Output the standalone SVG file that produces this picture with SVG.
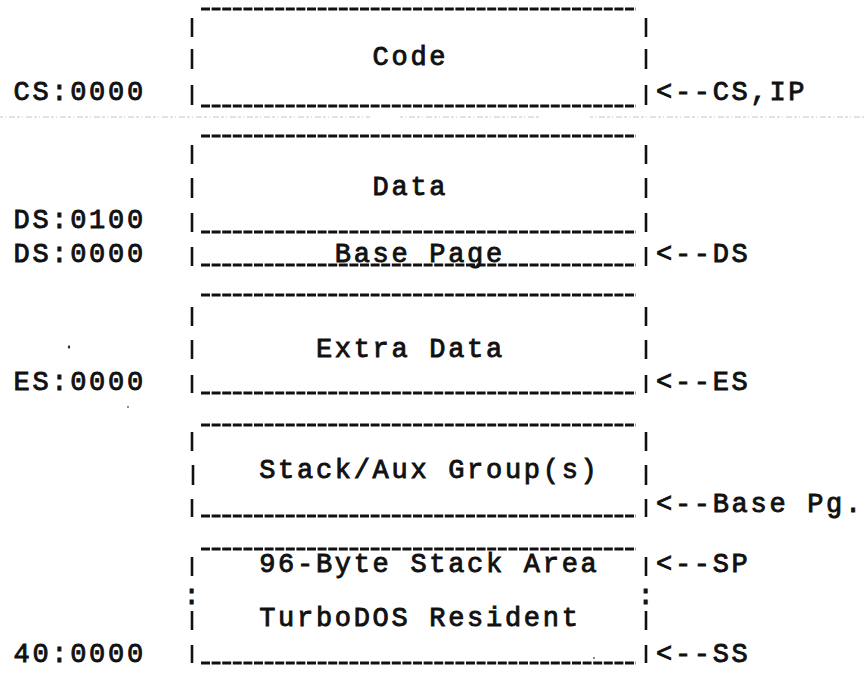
<svg xmlns="http://www.w3.org/2000/svg" width="864" height="682" viewBox="0 0 864 682">
<style>
  text { font-family: "Liberation Mono", "Courier New", monospace; font-size: 27px; letter-spacing: 2.7px; fill: #111; stroke: #111; stroke-width: 0.9px; }
  .rule { stroke: #111; stroke-width: 3; stroke-dasharray: 9 1.6; fill: none; }
  .bar { stroke: #111; stroke-width: 2.6; fill: none; }
  .scan { stroke: #c4c4c4; stroke-width: 1; stroke-dasharray: 3 2 1 3 6 2; fill: none; }
</style>
<rect width="864" height="682" fill="#fff"/>

<g id="scan-artifact">
  <line class="scan" x1="0" y1="117" x2="370" y2="117"/>
  <line class="scan" x1="400" y1="117" x2="540" y2="117"/>
  <line class="scan" x1="590" y1="117" x2="864" y2="117"/>
  <ellipse cx="69" cy="347" rx="1.2" ry="1.8" fill="#333"/>
  <circle cx="128" cy="407" r="0.9" fill="#555"/>
  <circle cx="594" cy="658" r="0.9" fill="#555"/>
</g>

<g id="block-code">
  <line class="rule" x1="201" y1="9" x2="636" y2="9"/>
  <line class="bar" x1="192" y1="18" x2="192" y2="37"/>
  <line class="bar" x1="192" y1="49" x2="192" y2="69"/>
  <line class="bar" x1="192" y1="85" x2="192" y2="105"/>
  <line class="bar" x1="646" y1="18" x2="646" y2="37"/>
  <line class="bar" x1="646" y1="49" x2="646" y2="69"/>
  <line class="bar" x1="646" y1="85" x2="646" y2="105"/>
  <line class="rule" x1="201" y1="106" x2="636" y2="106"/>
  <text x="372.6" y="65">Code</text>
</g>

<g id="block-data">
  <line class="rule" x1="201" y1="136" x2="636" y2="136"/>
  <line class="bar" x1="192" y1="145" x2="192" y2="164"/>
  <line class="bar" x1="192" y1="178" x2="192" y2="198"/>
  <line class="bar" x1="192" y1="213" x2="192" y2="232"/>
  <line class="bar" x1="192" y1="247" x2="192" y2="266"/>
  <line class="bar" x1="646" y1="145" x2="646" y2="164"/>
  <line class="bar" x1="646" y1="178" x2="646" y2="198"/>
  <line class="bar" x1="646" y1="213" x2="646" y2="232"/>
  <line class="bar" x1="646" y1="247" x2="646" y2="266"/>
  <line class="rule" x1="201" y1="232" x2="636" y2="232"/>
  <text x="372.6" y="195">Data</text>
  <line class="rule" x1="201" y1="265" x2="636" y2="265"/>
  <text x="334.8" y="262">Base Page</text>
</g>

<g id="block-extra">
  <line class="rule" x1="201" y1="295" x2="636" y2="295"/>
  <line class="bar" x1="192" y1="307" x2="192" y2="326"/>
  <line class="bar" x1="192" y1="340" x2="192" y2="359"/>
  <line class="bar" x1="192" y1="375" x2="192" y2="393"/>
  <line class="bar" x1="646" y1="307" x2="646" y2="326"/>
  <line class="bar" x1="646" y1="340" x2="646" y2="359"/>
  <line class="bar" x1="646" y1="375" x2="646" y2="393"/>
  <line class="rule" x1="201" y1="393" x2="636" y2="393"/>
  <text x="315.9" y="357">Extra Data</text>
</g>

<g id="block-stack">
  <line class="rule" x1="201" y1="425" x2="636" y2="425"/>
  <line class="bar" x1="192" y1="432" x2="192" y2="451"/>
  <line class="bar" x1="193" y1="465" x2="193" y2="485"/>
  <line class="bar" x1="192" y1="499" x2="192" y2="517"/>
  <line class="bar" x1="646" y1="432" x2="646" y2="451"/>
  <line class="bar" x1="646" y1="465" x2="646" y2="485"/>
  <line class="bar" x1="646" y1="499" x2="646" y2="517"/>
  <line class="rule" x1="201" y1="516" x2="636" y2="516"/>
  <text x="259.2" y="478">Stack/Aux Group(s)</text>
</g>

<g id="block-resident">
  <line class="rule" x1="201" y1="549" x2="636" y2="549"/>
  <line class="bar" x1="192" y1="557" x2="192" y2="576"/>
  <line class="bar" x1="192" y1="611" x2="192" y2="630"/>
  <line class="bar" x1="192" y1="645" x2="192" y2="663"/>
  <line class="bar" x1="646" y1="557" x2="646" y2="576"/>
  <line class="bar" x1="646" y1="611" x2="646" y2="630"/>
  <line class="bar" x1="646" y1="645" x2="646" y2="663"/>
  <text x="183.6" y="604">:</text>
  <text x="637.6" y="604">:</text>
  <line class="rule" x1="201" y1="663" x2="636" y2="663"/>
  <text x="259.2" y="572">96-Byte Stack Area</text>
  <text x="259.2" y="626">TurboDOS Resident</text>
</g>

<g id="addresses">
  <text x="13.5" y="100">CS:0000</text>
  <text x="13.5" y="228">DS:0100</text>
  <text x="13.5" y="262">DS:0000</text>
  <text x="13.5" y="390">ES:0000</text>
  <text x="13.5" y="662">40:0000</text>
</g>

<g id="connectors">
  <text x="656" y="100">&lt;--CS,IP</text>
  <text x="656" y="262">&lt;--DS</text>
  <text x="656" y="390">&lt;--ES</text>
  <text x="656" y="512">&lt;--Base Pg.</text>
  <text x="656" y="572">&lt;--SP</text>
  <text x="656" y="662">&lt;--SS</text>
</g>
</svg>
